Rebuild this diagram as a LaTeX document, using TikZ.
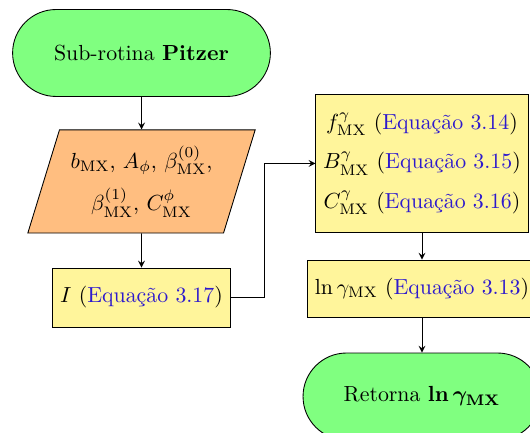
\documentclass[tikz,border=0pt]{standalone}
\usepackage{amsmath}
\usepackage{tikz}
\usetikzlibrary{calc, shapes.geometric}

\definecolor{termgreen}{RGB}{128,255,128}
\definecolor{inorange}{RGB}{255,190,128}
\definecolor{procyellow}{RGB}{255,245,155}
\definecolor{eqblue}{RGB}{45,25,205}

\tikzset{
    terminal/.style={draw, fill=termgreen, rounded corners=0.7cm, minimum height=1.40cm},
    inputbox/.style={draw, fill=inorange, trapezium, trapezium left angle=70.7, trapezium right angle=109.3,
        trapezium stretches=true, minimum width=3.69cm, minimum height=1.66cm, align=center},
    procbox/.style={draw, fill=procyellow, align=center},
    flow/.style={->, >=stealth}
}
\newcommand{\eqlink}[1]{\textcolor{eqblue}{Equação #1}}

\begin{document}
\begin{tikzpicture}[x=0.0161cm, y=-0.0161cm]
    % Fix the frame of the picture
    \useasboundingbox (0,0) rectangle (530,433);

    % Left column: start, input data and ionic strength
    \node[terminal, minimum width=4.15cm] (start) at (141.5,53) {Sub-rotina \textbf{Pitzer}};
    \node[inputbox] (params) at (141.5,181.5)
        {$b_{\mathrm{MX}}$, $A_{\phi}$, $\beta^{(0)}_{\mathrm{MX}}$,\\[5pt] $\beta^{(1)}_{\mathrm{MX}}$, $C^{\phi}_{\mathrm{MX}}$};
    \node[procbox, minimum width=2.82cm, minimum height=0.95cm] (ionic) at (141.5,297.5)
        {$I$ (\eqlink{3.17})};

    % Right column: coefficients, logarithm and return
    \node[procbox, minimum width=3.38cm, minimum height=2.21cm] (coef) at (422,163.5)
        {$f^{\gamma}_{\mathrm{MX}}$ (\eqlink{3.14})\\[6pt]
         $B^{\gamma}_{\mathrm{MX}}$ (\eqlink{3.15})\\[6pt]
         $C^{\gamma}_{\mathrm{MX}}$ (\eqlink{3.16})};
    \node[procbox, minimum width=3.64cm, minimum height=0.93cm] (lngamma) at (422,289)
        {$\ln\gamma_{\mathrm{MX}}$ (\eqlink{3.13})};
    \node[terminal, minimum width=3.83cm] (finish) at (422,396.5)
        {Retorna $\boldsymbol{\ln\gamma_{\mathrm{MX}}}$};

    % Connectors
    \draw[flow] (start) -- (params);
    \draw[flow] (params) -- (ionic);
    \coordinate (turn) at ($(ionic.east)+(34,0)$);
    \draw[flow] (ionic.east) -- (turn) |- (coef.west);
    \draw[flow] (coef) -- (lngamma);
    \draw[flow] (lngamma) -- (finish);
\end{tikzpicture}
\end{document}
